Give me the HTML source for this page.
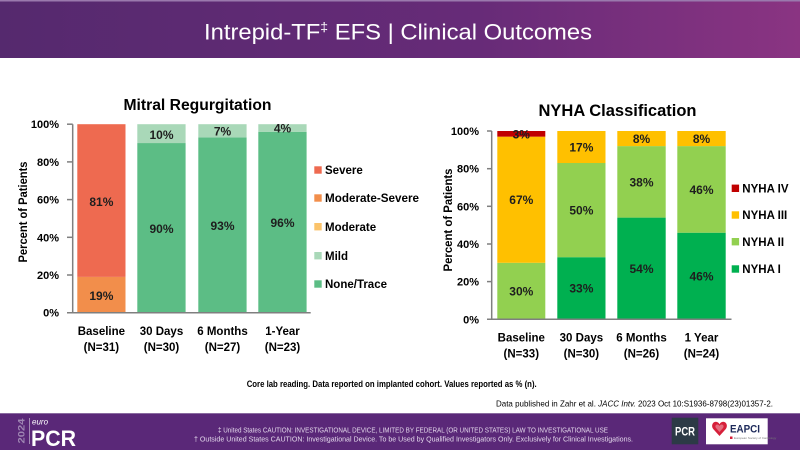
<!DOCTYPE html>
<html><head><meta charset="utf-8"><style>
html,body{margin:0;padding:0;background:#fff;}
svg{display:block;}
text{font-family:"Liberation Sans",Arial,sans-serif;}
</style></head><body>
<svg width="800" height="450" viewBox="0 0 800 450" xmlns="http://www.w3.org/2000/svg">
<defs>
<linearGradient id="hg" x1="0" y1="0" x2="1" y2="0">
<stop offset="0" stop-color="#55296e"/>
<stop offset="0.6" stop-color="#672b78"/>
<stop offset="1" stop-color="#8a3482"/>
</linearGradient>
</defs>
<rect x="0" y="0" width="800" height="450" fill="#fff"/>
<!-- header -->
<rect x="0" y="0" width="800" height="58" fill="url(#hg)"/>
<rect x="0" y="0" width="800" height="1.5" fill="#9a79ad"/>
<text x="204" y="39.5" fill="#fff" font-size="22" textLength="388" lengthAdjust="spacingAndGlyphs">Intrepid-TF<tspan font-size="13" dy="-8">‡</tspan><tspan dy="8"> EFS | Clinical Outcomes</tspan></text>

<!-- LEFT CHART -->
<text x="197.5" y="110" font-size="15.7" font-weight="bold" text-anchor="middle" fill="#000" textLength="148" lengthAdjust="spacingAndGlyphs">Mitral Regurgitation</text>
<text transform="translate(27,212) rotate(-90)" font-size="11.5" font-weight="bold" text-anchor="middle" fill="#000" textLength="101" lengthAdjust="spacingAndGlyphs">Percent of Patients</text>
<g font-size="11" font-weight="bold" text-anchor="end" fill="#000">
<text x="59" y="128.2">100%</text>
<text x="59" y="165.9">80%</text>
<text x="59" y="203.6">60%</text>
<text x="59" y="241.3">40%</text>
<text x="59" y="279">20%</text>
<text x="59" y="316.7">0%</text>
</g>
<!-- bars -->
<rect x="77.3" y="276.9" width="48.2" height="35.8" fill="#f28e4b"/>
<rect x="77.3" y="124.2" width="48.2" height="152.7" fill="#ee6a50"/>
<rect x="137.3" y="143.05" width="48.3" height="169.65" fill="#5cbd85"/>
<rect x="137.3" y="124.2" width="48.3" height="18.85" fill="#a9d8b8"/>
<rect x="198.3" y="137.4" width="48.3" height="175.3" fill="#5cbd85"/>
<rect x="198.3" y="124.2" width="48.3" height="13.2" fill="#a9d8b8"/>
<rect x="258.3" y="131.75" width="48.3" height="180.95" fill="#5cbd85"/>
<rect x="258.3" y="124.2" width="48.3" height="7.55" fill="#a9d8b8"/>
<g font-size="12" font-weight="bold" text-anchor="middle" fill="#1e1e1e">
<text x="101.4" y="300">19%</text>
<text x="101.4" y="206">81%</text>
<text x="161.5" y="233">90%</text>
<text x="161.5" y="139">10%</text>
<text x="222.5" y="230">93%</text>
<text x="222.5" y="135.5">7%</text>
<text x="282.5" y="227">96%</text>
<text x="282.5" y="132.5">4%</text>
</g>
<!-- axes -->
<g stroke="#7f7f7f" stroke-width="1.5" fill="none">
<line x1="72.7" y1="124.2" x2="72.7" y2="312.7"/>
<line x1="67" y1="312.7" x2="310.7" y2="312.7"/>
<line x1="67" y1="124.2" x2="72.7" y2="124.2"/>
<line x1="67" y1="161.9" x2="72.7" y2="161.9"/>
<line x1="67" y1="199.6" x2="72.7" y2="199.6"/>
<line x1="67" y1="237.3" x2="72.7" y2="237.3"/>
<line x1="67" y1="275" x2="72.7" y2="275"/>
</g>
<g font-size="11.5" font-weight="bold" text-anchor="middle" fill="#000">
<text x="101.4" y="335">Baseline</text>
<text x="101.4" y="351">(N=31)</text>
<text x="161.5" y="335">30 Days</text>
<text x="161.5" y="351">(N=30)</text>
<text x="222.5" y="335">6 Months</text>
<text x="222.5" y="351">(N=27)</text>
<text x="282.5" y="335">1-Year</text>
<text x="282.5" y="351">(N=23)</text>
</g>
<!-- legend left -->
<rect x="314.3" y="166.3" width="7.4" height="7.4" fill="#ee6a50"/>
<rect x="314.3" y="194.3" width="7.4" height="7.4" fill="#f28e4b"/>
<rect x="314.3" y="223" width="7.4" height="7.4" fill="#fbc36a"/>
<rect x="314.3" y="252" width="7.4" height="7.4" fill="#a9d8b8"/>
<rect x="314.3" y="280.3" width="7.4" height="7.4" fill="#5cbd85"/>
<g font-size="11.5" font-weight="bold" fill="#000">
<text x="325" y="174.2">Severe</text>
<text x="325" y="202.2" textLength="94" lengthAdjust="spacingAndGlyphs">Moderate-Severe</text>
<text x="325" y="230.9">Moderate</text>
<text x="325" y="259.9">Mild</text>
<text x="325" y="288.2">None/Trace</text>
</g>

<!-- RIGHT CHART -->
<text x="617.5" y="116" font-size="16.4" font-weight="bold" text-anchor="middle" fill="#000" textLength="158" lengthAdjust="spacingAndGlyphs">NYHA Classification</text>
<text transform="translate(452,220) rotate(-90)" font-size="11.5" font-weight="bold" text-anchor="middle" fill="#000" textLength="103" lengthAdjust="spacingAndGlyphs">Percent of Patients</text>
<g font-size="11" font-weight="bold" text-anchor="end" fill="#000">
<text x="479" y="135">100%</text>
<text x="479" y="172.7">80%</text>
<text x="479" y="210.3">60%</text>
<text x="479" y="248">40%</text>
<text x="479" y="285.6">20%</text>
<text x="479" y="323.3">0%</text>
</g>
<rect x="497.3" y="262.8" width="48" height="56.5" fill="#92d050"/>
<rect x="497.3" y="136.65" width="48" height="126.15" fill="#ffc000"/>
<rect x="497.3" y="131" width="48" height="5.65" fill="#c00000"/>
<rect x="557.3" y="257.2" width="48.2" height="62.1" fill="#00b050"/>
<rect x="557.3" y="163" width="48.2" height="94.2" fill="#92d050"/>
<rect x="557.3" y="131" width="48.2" height="32" fill="#ffc000"/>
<rect x="617.3" y="217.6" width="48.4" height="101.7" fill="#00b050"/>
<rect x="617.3" y="146.1" width="48.4" height="71.5" fill="#92d050"/>
<rect x="617.3" y="131" width="48.4" height="15.1" fill="#ffc000"/>
<rect x="677.3" y="232.7" width="48.4" height="86.6" fill="#00b050"/>
<rect x="677.3" y="146.1" width="48.4" height="86.6" fill="#92d050"/>
<rect x="677.3" y="131" width="48.4" height="15.1" fill="#ffc000"/>
<g font-size="12" font-weight="bold" text-anchor="middle" fill="#1e1e1e">
<text x="521.3" y="295.5">30%</text>
<text x="521.3" y="204.2">67%</text>
<text x="521.3" y="138.3">3%</text>
<text x="581.4" y="292.7">33%</text>
<text x="581.4" y="214.6">50%</text>
<text x="581.4" y="151.5">17%</text>
<text x="641.5" y="273">54%</text>
<text x="641.5" y="186.3">38%</text>
<text x="641.5" y="143">8%</text>
<text x="701.5" y="280.5">46%</text>
<text x="701.5" y="193.9">46%</text>
<text x="701.5" y="143">8%</text>
</g>
<g stroke="#7f7f7f" stroke-width="1.5" fill="none">
<line x1="491.7" y1="131" x2="491.7" y2="319.3"/>
<line x1="487" y1="319.3" x2="731.5" y2="319.3"/>
<line x1="487" y1="131" x2="491.7" y2="131"/>
<line x1="487" y1="168.7" x2="491.7" y2="168.7"/>
<line x1="487" y1="206.3" x2="491.7" y2="206.3"/>
<line x1="487" y1="244" x2="491.7" y2="244"/>
<line x1="487" y1="281.6" x2="491.7" y2="281.6"/>
</g>
<g font-size="11.5" font-weight="bold" text-anchor="middle" fill="#000">
<text x="521.3" y="341.5">Baseline</text>
<text x="521.3" y="357.5">(N=33)</text>
<text x="581.4" y="341.5">30 Days</text>
<text x="581.4" y="357.5">(N=30)</text>
<text x="641.5" y="341.5">6 Months</text>
<text x="641.5" y="357.5">(N=26)</text>
<text x="701.5" y="341.5">1 Year</text>
<text x="701.5" y="357.5">(N=24)</text>
</g>
<rect x="731.7" y="184.6" width="7.4" height="7.4" fill="#c00000"/>
<rect x="731.7" y="211.3" width="7.4" height="7.4" fill="#ffc000"/>
<rect x="731.7" y="238" width="7.4" height="7.4" fill="#92d050"/>
<rect x="731.7" y="265.3" width="7.4" height="7.4" fill="#00b050"/>
<g font-size="11.5" font-weight="bold" fill="#000">
<text x="742.3" y="192.5">NYHA IV</text>
<text x="742.3" y="219.2">NYHA III</text>
<text x="742.3" y="245.9">NYHA II</text>
<text x="742.3" y="273.2">NYHA I</text>
</g>

<!-- notes -->
<text x="246.7" y="387" font-size="9" font-weight="bold" fill="#000" textLength="290" lengthAdjust="spacingAndGlyphs">Core lab reading. Data reported on implanted cohort. Values reported as % (n).</text>
<text x="496" y="406.5" font-size="8.5" fill="#000" textLength="277" lengthAdjust="spacingAndGlyphs">Data published in Zahr et al. <tspan font-style="italic">JACC Intv.</tspan> 2023 Oct 10:S1936-8798(23)01357-2.</text>

<!-- footer -->
<rect x="0" y="413" width="800" height="37" fill="#5a2878"/>
<rect x="0" y="413" width="800" height="1" fill="#8a6aa0"/>
<text transform="translate(24.5,431) rotate(-90)" font-size="9" font-weight="bold" fill="#9f86b3" text-anchor="middle" textLength="25" lengthAdjust="spacingAndGlyphs">2024</text>
<line x1="29.5" y1="418" x2="29.5" y2="444" stroke="#b7a3c6" stroke-width="0.8"/>
<text x="32" y="424.5" font-size="8" font-style="italic" fill="#fff">euro</text>
<text x="31" y="446" font-size="22" font-weight="bold" fill="#fff" textLength="45" lengthAdjust="spacingAndGlyphs">PCR</text>
<g font-size="7" fill="#e2d6ea" text-anchor="middle">
<text x="413" y="432.3" textLength="390" lengthAdjust="spacingAndGlyphs">‡ United States CAUTION: INVESTIGATIONAL DEVICE, LIMITED BY FEDERAL (OR UNITED STATES) LAW TO INVESTIGATIONAL USE</text>
<text x="413.5" y="441.7" textLength="439" lengthAdjust="spacingAndGlyphs">† Outside United States CAUTION: Investigational Device. To be Used by Qualified Investigators Only. Exclusively for Clinical Investigations.</text>
</g>
<rect x="671.7" y="417.7" width="26.6" height="26.6" fill="#2c3a46"/>
<text x="685" y="435.5" font-size="12" font-weight="bold" fill="#fff" text-anchor="middle" textLength="20" lengthAdjust="spacingAndGlyphs">PCR</text>
<rect x="706" y="418.3" width="61.7" height="26" fill="#fff"/>
<path d="M719.5 436 L713.2 429 C711 426.3 712.3 421.8 715.8 421.8 C717.6 421.8 718.8 423 719.5 424.3 C720.2 423 721.4 421.8 723.2 421.8 C726.7 421.8 728 426.3 725.8 429 Z" fill="#d6203a"/>
<path d="M719.5 432 L716 428 C714.8 426.5 715.5 424.5 717.3 424.5 C718.3 424.5 719 425.2 719.5 426 C720 425.2 720.7 424.5 721.7 424.5 C723.5 424.5 724.2 426.5 723 428 Z" fill="#fff" opacity="0.35"/>
<text x="730" y="432.5" font-size="11" font-weight="bold" fill="#1d2a5a" textLength="30" lengthAdjust="spacingAndGlyphs">EAPCI</text>
<rect x="730" y="436.5" width="2.5" height="2.5" fill="#d6203a"/>
<text x="734" y="439" font-size="3" fill="#777">European Society of Cardiology</text>
</svg>
</body></html>
